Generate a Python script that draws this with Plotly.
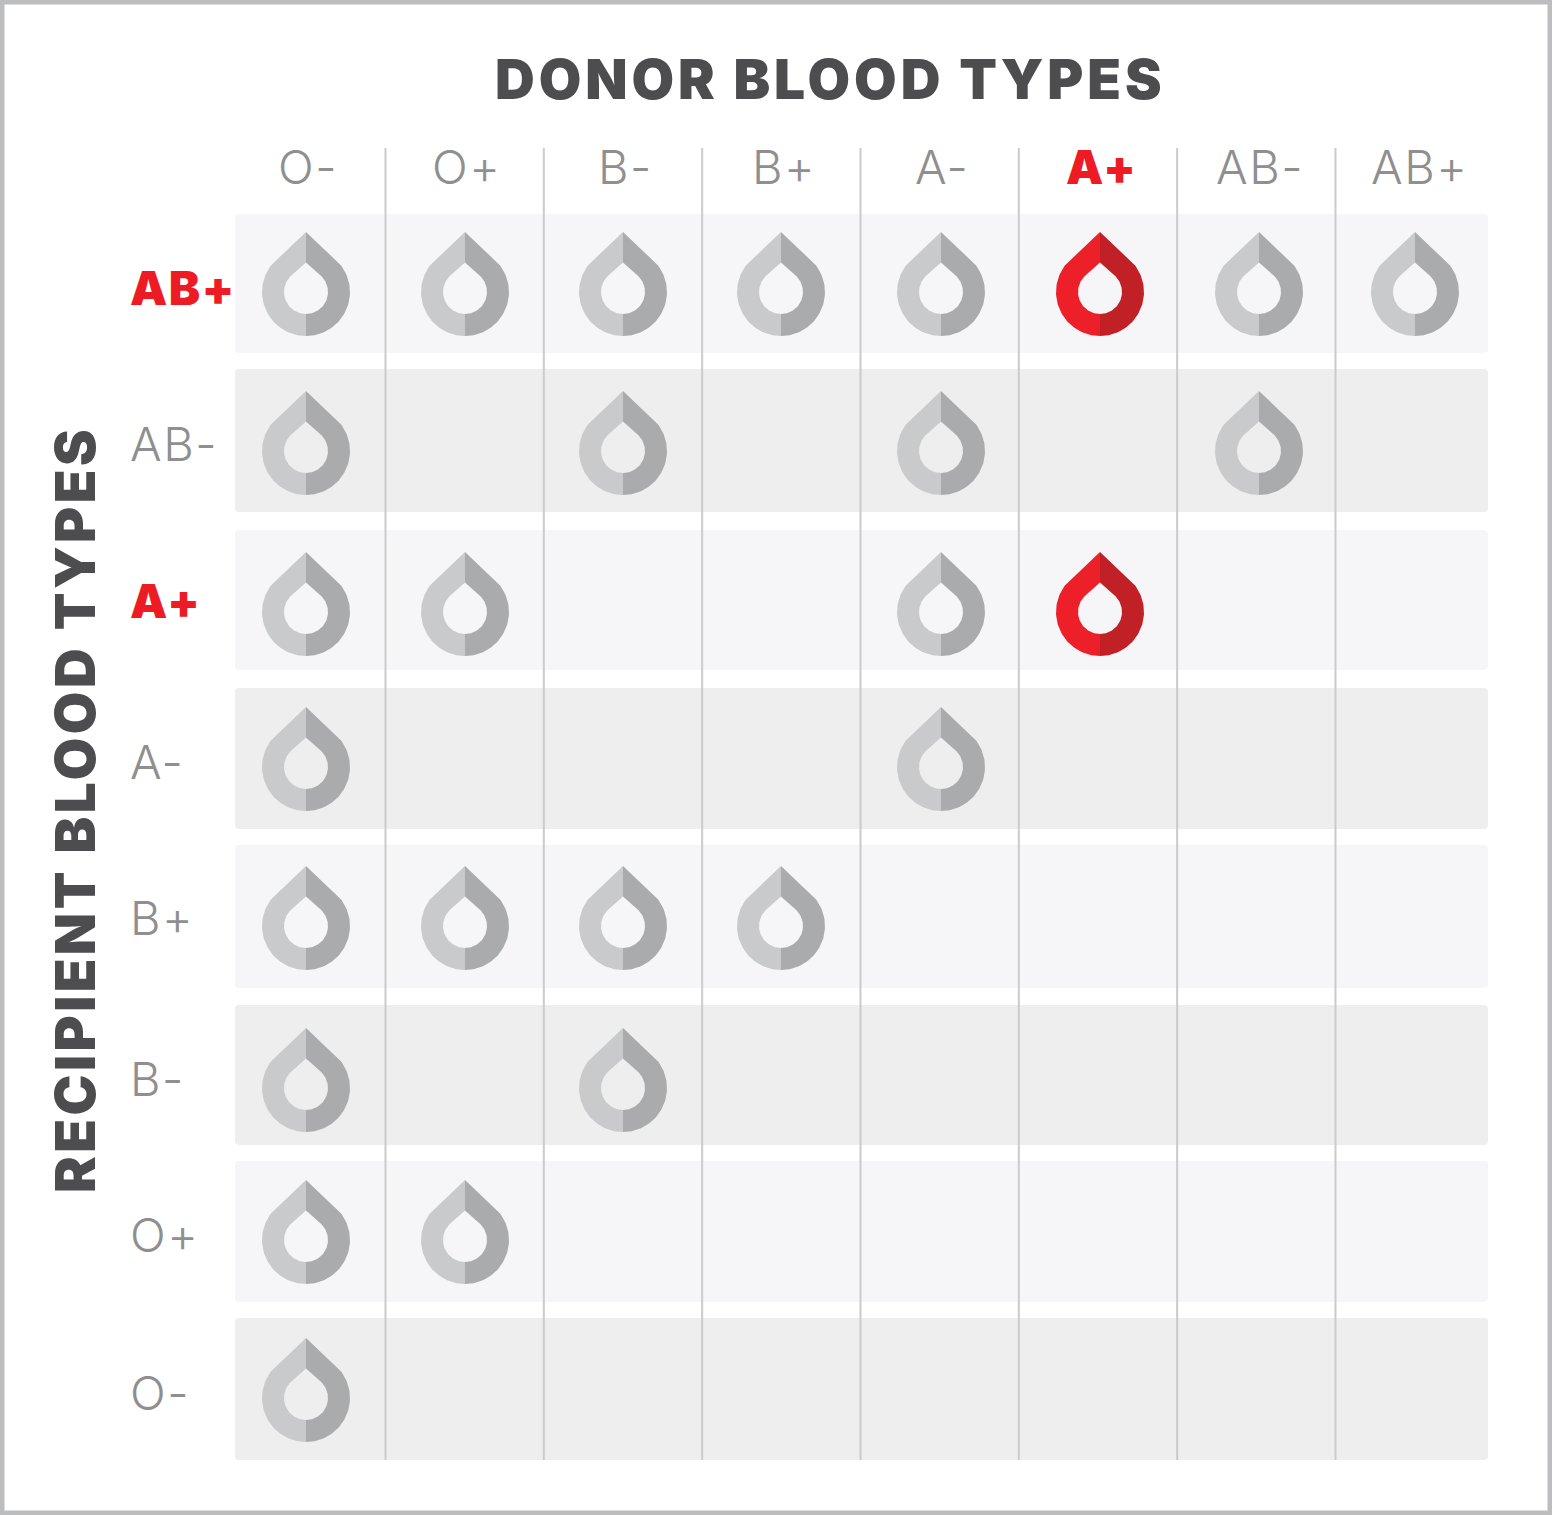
import math
import plotly.graph_objects as go

# ---- data -------------------------------------------------------------
DONORS = ["O-", "O+", "B-", "B+", "A-", "A+", "AB-", "AB+"]
RECIPIENTS = ["AB+", "AB-", "A+", "A-", "B+", "B-", "O+", "O-"]
COMPATIBLE_AB_POS = ["O-", "O+", "B-", "B+", "A-", "A+", "AB-", "AB+"]
COMPATIBLE_AB_NEG = ["O-", "B-", "A-", "AB-"]
COMPATIBLE_A_POS = ["O-", "O+", "A-", "A+"]
COMPATIBLE_A_NEG = ["O-", "A-"]
COMPATIBLE_B_POS = ["O-", "O+", "B-", "B+"]
COMPATIBLE_B_NEG = ["O-", "B-"]
COMPATIBLE_O_POS = ["O-", "O+"]
COMPATIBLE_O_NEG = ["O-"]
COMPATIBLE = [COMPATIBLE_AB_POS, COMPATIBLE_AB_NEG, COMPATIBLE_A_POS, COMPATIBLE_A_NEG,
              COMPATIBLE_B_POS, COMPATIBLE_B_NEG, COMPATIBLE_O_POS, COMPATIBLE_O_NEG]
HIGHLIGHT = "A+"
TITLE_TOP = "DONOR BLOOD TYPES"
TITLE_SIDE = "RECIPIENT BLOOD TYPES"

# ---- layout -----------------------------------------------------------
W, H = 1552, 1515
X0, DX = 306.0, 158.5      # pixel of first column, pixels per column
Y0, DY = 292.0, 158.0      # pixel of first row, pixels per row
COL_NUDGE = [0, .5, 0, -.5, 1, 1.5, 2, -.5]
ROW_NUDGE = [0, 1, 4, 1, 2, 6, 0, 0]
BAND_EDGES = [(214, 353), (369, 512), (530, 670), (688, 829),
              (845, 988), (1005, 1145), (1161, 1302), (1318, 1460)]
BAND_L, BAND_R = 235, 1488
BAND_COLORS = ["#f6f6f8", "#eeeeee"]
SEP_START, SEP_STEP = 385.5, 158.33
TOP_LABEL_X = [307.5, 466, 625, 784, 942, 1101, 1260, 1419]
SIDE_LABEL_Y = [287, 443, 600, 761, 917, 1078, 1234, 1392]
RED, GREY = "#ed1c24", "#8f8f8f"
FONT = "Inter"

def ux(px):   # pixel -> donor-index units
    return (px - X0) / DX
def uy(py):   # pixel -> recipient-index units
    return (py - Y0) / DY

def teardrop(radius, apex):
    """Apex, then the circle from the tangent point round to the bottom."""
    start = math.degrees(math.acos(radius / apex))
    steps = 72
    pts = [(0, -apex)]
    for k in range(steps + 1):
        a = math.radians(start + k * (180 - start) / steps)
        pts.append((radius * math.sin(a), -radius * math.cos(a)))
    return pts

def half_drop(side):
    """Half-ring outline as pixel offsets from the drop centre. side = -1 left, +1 right."""
    pts = teardrop(44.0, 60.0) + teardrop(22.0, 29.5)[::-1]
    return [(side * x, y) for x, y in pts]

def collect(side, red):
    xs, ys = [], []
    shape = half_drop(side)
    for j, donors in enumerate(COMPATIBLE):
        for d in donors:
            if (d == HIGHLIGHT) != red:
                continue
            i = DONORS.index(d)
            for ox, oy in shape:
                xs.append(i + (COL_NUDGE[i] + ox) / DX)
                ys.append(j + (ROW_NUDGE[j] + oy) / DY)
            xs.append(None); ys.append(None)
    return xs, ys

fig = go.Figure()
for name, side, red, color in [("compatible, left", -1, False, "#c8cacb"),
                               ("compatible, right", 1, False, "#aaabad"),
                               ("A+ donor, left", -1, True, "#ed1f29"),
                               ("A+ donor, right", 1, True, "#c12026")]:
    xs, ys = collect(side, red)
    fig.add_trace(go.Scatter(x=xs, y=ys, mode="lines", fill="toself", fillcolor=color,
                             line=dict(width=0, color=color), name=name,
                             hoverinfo="skip", showlegend=False))

shapes = []
# outer frame
shapes.append(dict(type="rect", xref="paper", yref="paper", x0=2.25 / W, x1=(W - 2.25) / W,
                   y0=2.25 / H, y1=(H - 2.25) / H, line=dict(color="#bcbdbf", width=4.5),
                   fillcolor="rgba(0,0,0,0)", layer="below"))
# row bands with slightly rounded corners
rad = 4
for j, (t, b) in enumerate(BAND_EDGES):
    l, rr = ux(BAND_L), ux(BAND_R)
    rx, ry = rad / DX, rad / DY
    tt, bb = uy(t), uy(b)
    path = (f"M {l+rx} {tt} L {rr-rx} {tt} Q {rr} {tt} {rr} {tt+ry} L {rr} {bb-ry} Q {rr} {bb} {rr-rx} {bb} "
            f"L {l+rx} {bb} Q {l} {bb} {l} {bb-ry} L {l} {tt+ry} Q {l} {tt} {l+rx} {tt} Z")
    shapes.append(dict(type="path", path=path, xref="x", yref="y", layer="below",
                       fillcolor=BAND_COLORS[j % 2], line=dict(width=0)))
# column separators
for i in range(len(DONORS) - 1):
    xpos = ux(SEP_START + i * SEP_STEP)
    shapes.append(dict(type="line", xref="x", yref="y", x0=xpos, x1=xpos,
                       y0=uy(148), y1=uy(1460), layer="below",
                       line=dict(color="#cbcbcb", width=2)))

ann = []
def label(text, x, y, size, color, weight, anchor="center", angle=0, spacing=0):
    if spacing:
        text = f'<span style="letter-spacing:{spacing}px">{text}</span>'
    ann.append(dict(text=text, x=x, y=y, xref="x", yref="y", showarrow=False, xanchor=anchor,
                    yanchor="middle", textangle=angle, borderpad=0,
                    font=dict(family=FONT, size=size, color=color, weight=weight)))

for d, px in zip(DONORS, TOP_LABEL_X):
    hl = d == HIGHLIGHT
    label(d, ux(px), uy(166.5), 47, RED if hl else GREY, 900 if hl else 300, spacing=1.5)
for r, py in zip(RECIPIENTS, SIDE_LABEL_Y):
    hl = r in ("AB+", "A+")
    label(r, ux(129), uy(py), 47, RED if hl else GREY, 900 if hl else 300, anchor="left", spacing=1.5)
label(TITLE_TOP, ux(830), uy(79), 55, "#4d4d4f", 900, spacing=3.9)
label(TITLE_SIDE, ux(75), uy(810), 55, "#4d4d4f", 900, angle=-90, spacing=3.5)

fig.update_layout(
    width=W, height=H, autosize=False, margin=dict(l=0, r=0, t=0, b=0),
    paper_bgcolor="#ffffff", plot_bgcolor="#ffffff", showlegend=False,
    shapes=shapes, annotations=ann,
    xaxis=dict(range=[ux(0), ux(W)], visible=False, fixedrange=True),
    yaxis=dict(range=[uy(H), uy(0)], visible=False, fixedrange=True),
)
fig.write_html("out.html", post_script="document.body.style.margin='0';",
               config=dict(displayModeBar=False))
